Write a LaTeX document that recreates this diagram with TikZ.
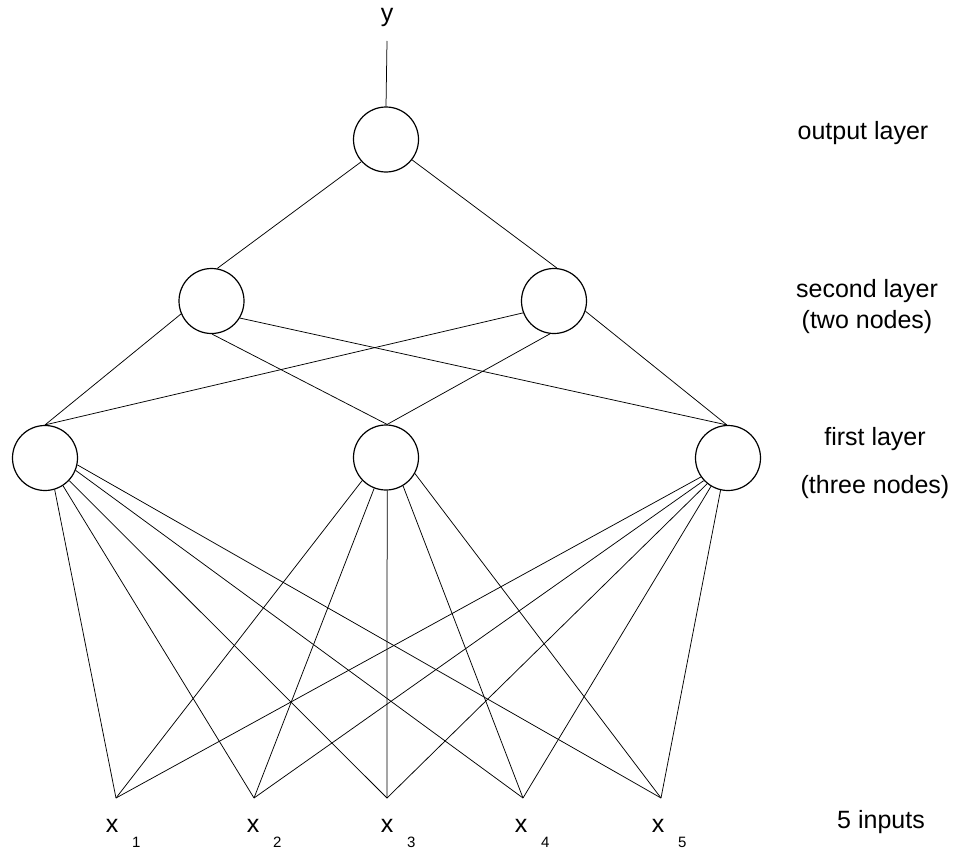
\documentclass[tikz,border=0pt]{standalone}
\usepackage{fontspec}
\setmainfont{Liberation Sans}
\newcommand{\insub}[1]{x\hspace{13.6pt}\raisebox{-15pt}{\fontsize{15}{18}\selectfont #1}}
\begin{document}
\begin{tikzpicture}[x=1pt,y=-1pt,
  neuron/.style={circle,draw,line width=1.2pt,minimum size=65pt,inner sep=0pt},
  edge/.style={line width=0.75pt},
  lbl/.style={anchor=base,inner sep=0pt,font=\fontsize{25}{30}\selectfont},
  inlbl/.style={anchor=base west,inner sep=0pt,font=\fontsize{25}{30}\selectfont}]
\useasboundingbox (0,0) rectangle (958,851);
% nodes
\node[neuron] (o) at (386,139.5) {};
\node[neuron] (s1) at (211.5,301) {};
\node[neuron] (s2) at (554,301) {};
\node[neuron] (f1) at (45,458) {};
\node[neuron] (f2) at (386,457.5) {};
\node[neuron] (f3) at (728,458) {};
\coordinate (in1) at (116,798);
\coordinate (in2) at (254,798);
\coordinate (in3) at (387,798);
\coordinate (in4) at (523,798);
\coordinate (in5) at (661,798);
\coordinate (ytop) at (387,41);
% labels
\node[lbl] (ylbl) at (387,22) {y};
\node[lbl] (lout) at (863,139) {output layer};
\node[lbl] (lsec) at (867,297) {second layer};
\node[lbl] (lsec2) at (867,328) {(two nodes)};
\node[lbl] (lfir) at (875,445) {first layer};
\node[lbl] (lfir2) at (875,493) {(three nodes)};
\node[lbl] (linp) at (881,828) {5 inputs};
\node[inlbl] (x1) at (105.75,832) {\insub{1}};
\node[inlbl] (x2) at (246.75,832) {\insub{2}};
\node[inlbl] (x3) at (380.75,832) {\insub{3}};
\node[inlbl] (x4) at (514.75,832) {\insub{4}};
\node[inlbl] (x5) at (651.75,832) {\insub{5}};
% connectors
\draw[edge] (ytop) -- (o.north);
\draw[edge] (o.-138) -- (s1.80);
\draw[edge] (o.-38) -- (s2.85);
\draw[edge] (s1.203) -- (f1.90);
\draw[edge] (s1.-89) -- (f2.88);
\draw[edge] (s1.-31) -- (f3.92);
\draw[edge] (s2.201) -- (f1.90);
\draw[edge] (s2.-97) -- (f2.88);
\draw[edge] (s2.-18) -- (f3.92);
\draw[edge] (f1.-73) -- (in1);
\draw[edge] (f1.-57) -- (in2);
\draw[edge] (f1.-43) -- (in3);
\draw[edge] (f1.-22) -- (in4);
\draw[edge] (f1.-12) -- (in5);
\draw[edge] (f2.-136) -- (in1);
\draw[edge] (f2.-111) -- (in2);
\draw[edge] (f2.-88) -- (in3);
\draw[edge] (f2.-59) -- (in4);
\draw[edge] (f2.-29) -- (in5);
\draw[edge] (f3.-145) -- (in1);
\draw[edge] (f3.-137) -- (in2);
\draw[edge] (f3.-129) -- (in3);
\draw[edge] (f3.-121) -- (in4);
\draw[edge] (f3.-103) -- (in5);
\end{tikzpicture}
\end{document}
